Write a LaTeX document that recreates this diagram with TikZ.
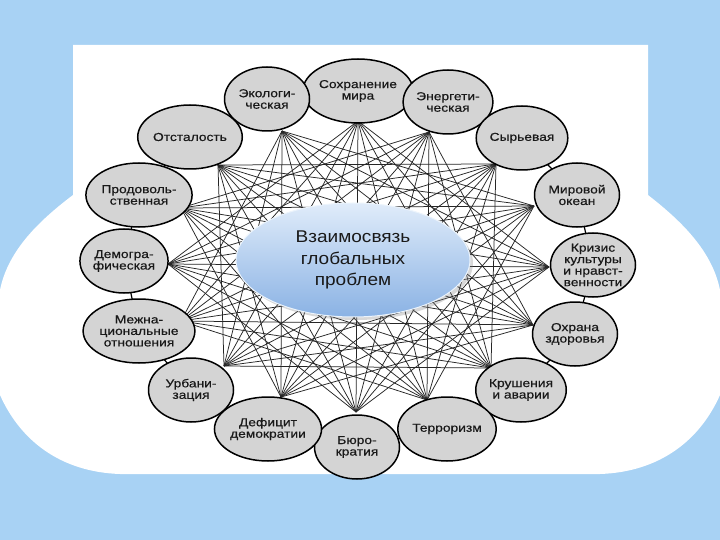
\documentclass[tikz,border=0pt]{standalone}
\usepackage{fontspec}
\setmainfont{Liberation Sans}
\newfontfamily\lab[FakeStretch=1.2,FakeBold=0.5]{Liberation Sans}
\newfontfamily\ctr[FakeStretch=1.12]{Liberation Sans}
\usetikzlibrary{shapes.geometric,shadows}
\definecolor{bgblue}{RGB}{168,210,244}
\definecolor{bglight}{RGB}{232,243,252}
\definecolor{nodegray}{RGB}{212,212,212}
\definecolor{elltop}{RGB}{224,236,250}
\definecolor{ellbot}{RGB}{138,178,228}
\definecolor{txt}{RGB}{25,25,25}
\tikzset{
  prob/.style={ellipse, draw=black, line width=1.5pt, fill=nodegray,
    minimum width=85pt, minimum height=64pt, inner sep=0pt, align=center,
    text=txt, font=\lab\fontsize{11.5}{11.5}\selectfont},
  web/.style={draw=black!85, line width=0.75pt},
  ring/.style={draw=black, line width=1.2pt},
  hub/.style={ellipse, minimum width=234pt, minimum height=114pt,
    top color=elltop, bottom color=ellbot, draw=elltop!60!white, line width=1pt,
    drop shadow={opacity=0.3, shadow xshift=3pt, shadow yshift=-3pt},
    align=center, text=txt, font=\ctr\fontsize{17}{21.5}\selectfont}
}
\begin{document}
\begin{tikzpicture}[x=1pt,y=-1pt]
\useasboundingbox (0,0) rectangle (720,540);
% background
\fill[left color=bgblue, middle color=bglight, right color=bgblue] (0,0) rectangle (720,540);
\fill[white] (73,45) -- (648,45) -- (648,195)
  .. controls (680,220) and (712,250) .. (720,290) -- (720,395)
  .. controls (700,440) and (660,472) .. (600,474) -- (120,474)
  .. controls (60,472) and (20,440) .. (0,395) -- (0,290)
  .. controls (8,250) and (40,220) .. (73,195) -- cycle;
% centres
\coordinate (c0) at (358,91);
\coordinate (c1) at (448,102);
\coordinate (c2) at (522,138);
\coordinate (c3) at (577,195);
\coordinate (c4) at (593,265);
\coordinate (c5) at (575,334);
\coordinate (c6) at (521,390);
\coordinate (c7) at (447,429);
\coordinate (c8) at (357,447);
\coordinate (c9) at (268,429);
\coordinate (c10) at (191,390);
\coordinate (c11) at (139,331);
\coordinate (c12) at (124,261);
\coordinate (c13) at (139,195);
\coordinate (c14) at (190,137);
\coordinate (c15) at (267,99);
% hubs
\coordinate (h0) at (358,121);
\coordinate (h1) at (429,132);
\coordinate (h2) at (496,164);
\coordinate (h3) at (534,206);
\coordinate (h4) at (549,267);
\coordinate (h5) at (533,325);
\coordinate (h6) at (491,368);
\coordinate (h7) at (427,400);
\coordinate (h8) at (356,412);
\coordinate (h9) at (281,397);
\coordinate (h10) at (224,366);
\coordinate (h11) at (181,321);
\coordinate (h12) at (168,264);
\coordinate (h13) at (181,208);
\coordinate (h14) at (218,165);
\coordinate (h15) at (282,131);
% web of links: every pair at least four steps apart on the ring
\foreach \i in {0,...,11}{
  \pgfmathtruncatemacro\js{\i+4}
  \foreach \j in {\js,...,15}{
    \pgfmathtruncatemacro\dd{\j-\i}
    \ifnum\dd>12 \else \draw[web] (h\i) -- (h\j); \fi
  }
}
% ring
\draw[ring] (c0) -- (c1) -- (c2) -- (c3) -- (c4) -- (c5) -- (c6) -- (c7) -- (c8)
  -- (c9) -- (c10) -- (c11) -- (c12) -- (c13) -- (c14) -- (c15) -- cycle;
% central
\node[hub] (centre) at (353,260) {Взаимосвязь\\глобальных\\проблем};
% problems
\node[prob] (n0) at (c0) {Сохранение\\мира};
\node[prob] (n1) at (c1) {Энергети-\\ческая};
\node[prob] (n2) at (c2) {Сырьевая};
\node[prob] (n3) at (c3) {Мировой\\океан};
\node[prob] (n4) at (c4) {Кризис\\культуры\\и нравст-\\венности};
\node[prob] (n5) at (c5) {Охрана\\здоровья};
\node[prob] (n6) at (c6) {Крушения\\и аварии};
\node[prob] (n7) at (c7) {Терроризм};
\node[prob] (n8) at (c8) {Бюро-\\кратия};
\node[prob] (n9) at (c9) {Дефицит\\демократии};
\node[prob] (n10) at (c10) {Урбани-\\зация};
\node[prob] (n11) at (c11) {Межна-\\циональные\\отношения};
\node[prob] (n12) at (c12) {Демогра-\\фическая};
\node[prob] (n13) at (c13) {Продоволь-\\ственная};
\node[prob] (n14) at (c14) {Отсталость};
\node[prob] (n15) at (c15) {Экологи-\\ческая};
\end{tikzpicture}
\end{document}
